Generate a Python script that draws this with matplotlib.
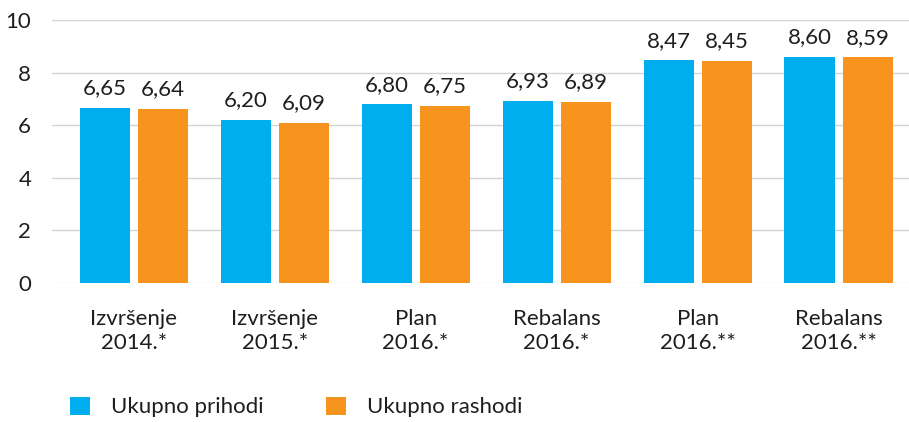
import matplotlib
matplotlib.use("Agg")
import matplotlib.pyplot as plt
import numpy as np

categories = ["Izvršenje\n2014.*", "Izvršenje\n2015.*", "Plan\n2016.*",
              "Rebalans\n2016.*", "Plan\n2016.**", "Rebalans\n2016.**"]
prihodi = [6.65, 6.20, 6.80, 6.93, 8.47, 8.60]
rashodi = [6.64, 6.09, 6.75, 6.89, 8.45, 8.59]
series_names = ["Ukupno prihodi", "Ukupno rashodi"]
yticks = [0, 2, 4, 6, 8, 10]

plt.rcParams["font.family"] = ["Lato", "DejaVu Sans"]

BLUE = "#00AEEF"
ORANGE = "#F7941D"
TXT = "#1e1e1e"
FS = 16

fig = plt.figure(figsize=(9.09, 4.22), dpi=100)
ax = fig.add_axes([52/909, 1-283/422, (909-52)/909, (283-20.3)/422])

x = np.arange(len(categories))
w = 0.355
off = 0.206
b1 = ax.bar(x - off, prihodi, w, color=BLUE, label=series_names[0], zorder=3)
b2 = ax.bar(x + off, rashodi, w, color=ORANGE, label=series_names[1], zorder=3)

def fmt(v):
    return f"{v:.2f}".replace(".", ",")

for bars, vals in ((b1, prihodi), (b2, rashodi)):
    for r, v in zip(bars, vals):
        ax.annotate(fmt(v), (r.get_x() + r.get_width()/2, v), xytext=(0, 7),
                    textcoords="offset points", ha="center", va="bottom",
                    fontsize=FS, color=TXT)

ax.set_xlim(-0.58, 5.5)
ax.set_ylim(0, 10)
ax.set_yticks(yticks)
ax.set_yticklabels([str(t) for t in yticks], fontsize=FS, color=TXT)
ax.set_xticks(x)
ax.set_xticklabels(categories, fontsize=FS, color=TXT, linespacing=1.2)
ax.tick_params(axis="both", length=0)
ax.tick_params(axis="y", pad=15)
ax.tick_params(axis="x", pad=19)
for s in ax.spines.values():
    s.set_visible(False)
for t in yticks[1:]:
    ax.axhline(t, color="#d4d4d4", lw=1, zorder=1)
ax.axhline(0, color="#ececec", lw=1, zorder=1)

leg = fig.legend(handles=[b1, b2], loc="center left", bbox_to_anchor=(70/909, 15/422),
                 ncol=2, frameon=False, handlelength=0.9, handleheight=0.9,
                 handletextpad=0.95, columnspacing=2.8, labelcolor=TXT,
                 borderpad=0, borderaxespad=0, prop={"size": FS})

fig.savefig("out.png", dpi=100)
